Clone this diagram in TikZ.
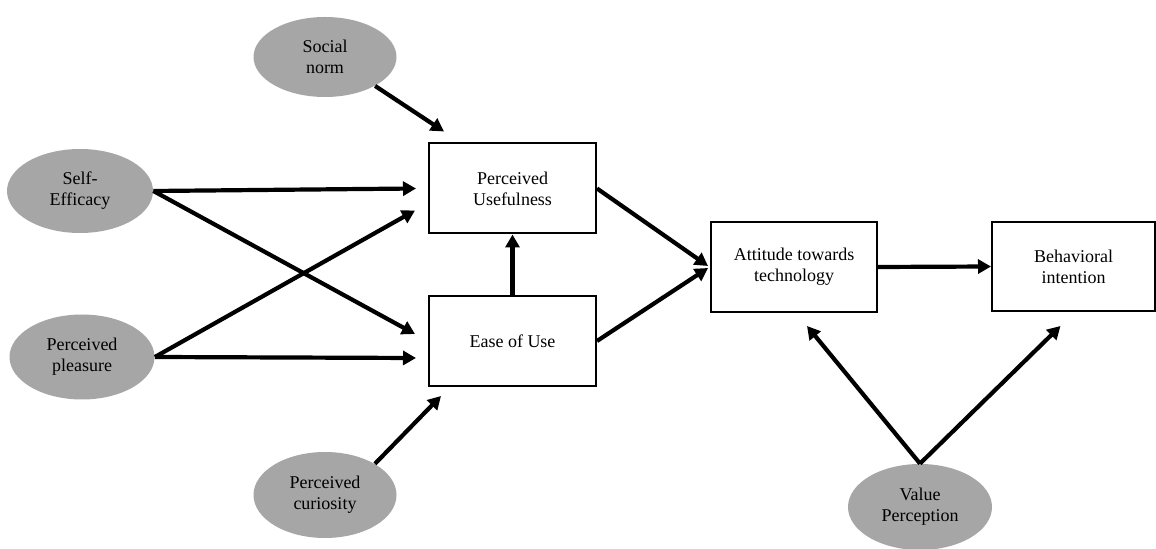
\documentclass[tikz,border=0pt]{standalone}
\usepackage{fontspec}
\setmainfont{Liberation Serif}
\newfontfamily\labelfont{Liberation Serif}
\usetikzlibrary{shapes.geometric,arrows.meta,calc}
\definecolor{ovalgray}{RGB}{166,166,166}
\tikzset{
  construct/.style={ellipse, fill=ovalgray, draw=none, inner sep=0pt,
    align=center, minimum width=72pt, minimum height=42pt,
    font=\labelfont\fontsize{9pt}{10.5pt}\selectfont},
  stagebox/.style={rectangle, draw=black, line width=1pt, fill=white,
    align=center, inner sep=0pt, minimum width=83.5pt, minimum height=45pt,
    font=\labelfont\fontsize{9pt}{10.5pt}\selectfont},
  link/.style={line width=2.1pt, -{Triangle[length=6.5pt,width=7pt]}}
}
\begin{document}
\begin{tikzpicture}[x=0.5pt,y=-0.5pt]
  \fill[white] (0,0) rectangle (1156,549);
  \useasboundingbox (0,0) rectangle (1156,549);

  % external constructs
  \node[construct, minimum width=71.5pt, minimum height=40pt] (sn) at (325,57) {Social\\norm};
  \node[construct, minimum width=73pt] (se) at (80,191) {Self-\\Efficacy};
  \node[construct, minimum width=72.5pt, minimum height=42.5pt] (pp) at (82,357) {Perceived\\pleasure};
  \node[construct, minimum width=71.5pt, minimum height=43pt] (pc) at (325,495) {Perceived\\curiosity};
  \node[construct, minimum width=72pt, minimum height=43pt] (vp) at (920,507) {Value\\Perception};

  % core model
  \node[stagebox] (pu) at (512.5,188.5) {Perceived\\Usefulness};
  \node[stagebox] (eou) at (512.5,341) {Ease of Use};
  \node[stagebox, minimum width=83pt] (att) at (794,267) {Attitude towards\\technology};
  \node[stagebox, minimum width=81.5pt, minimum height=44.5pt] (bi) at (1073.5,266.5) {Behavioral\\intention};

  % paths
  \draw[link] (sn.-30) -- ($(pu.north west)+(16,-11)$);
  \draw[link] (se.east) -- ($(pu.west)+(-12,0)$);
  \draw[link] (se.east) -- ($(eou.west)+(-13,-7)$);
  \draw[link] (pp.east) -- ($(pu.west)+(-13,22)$);
  \draw[link] (pp.east) -- ($(eou.west)+(-12,17)$);
  \draw[link] (pc.32) -- ($(eou.south west)+(13,9)$);
  \draw[link] (eou.north) -- (pu.south);
  \draw[link] (pu.east) -- ($(att.west)+(-2,-1)$);
  \draw[link] (eou.east) -- ($(att.west)+(-2,1)$);
  \draw[link] (att.east) -- (bi.west);
  \draw[link] (vp.north) -- ($(att.south)+(13,13)$);
  \draw[link] (vp.north) -- ($(bi.south)+(-13,14)$);
\end{tikzpicture}
\end{document}
